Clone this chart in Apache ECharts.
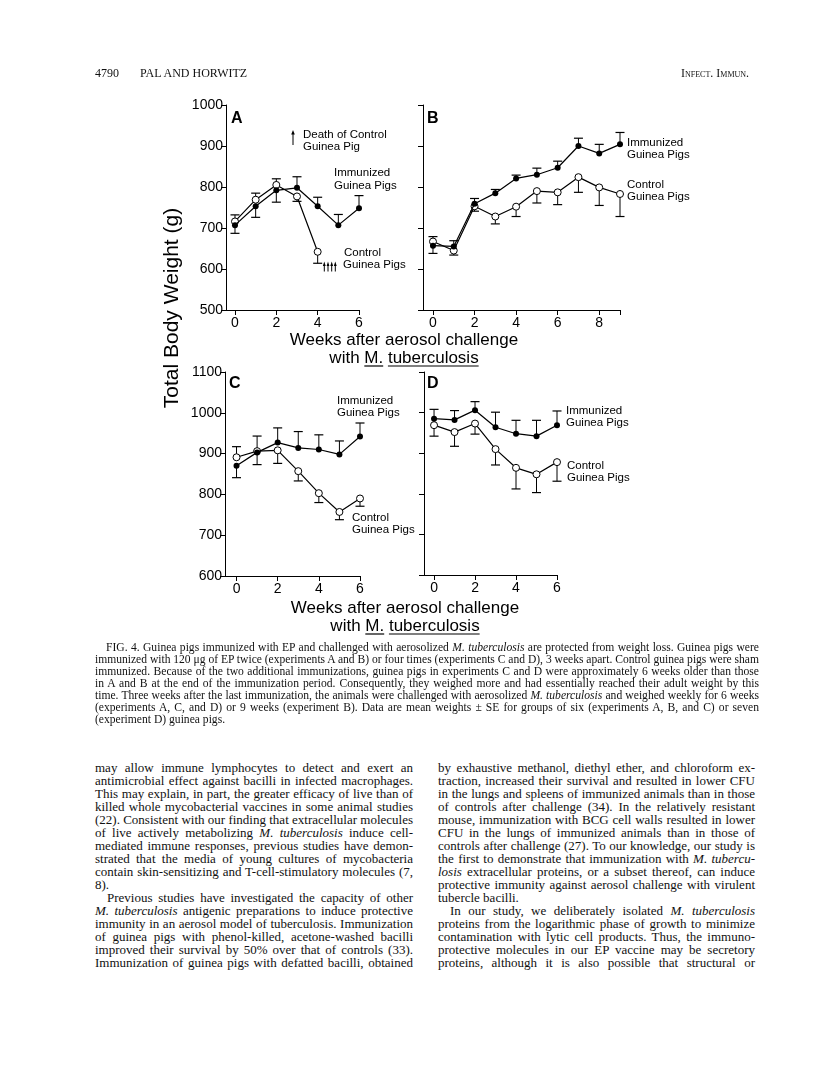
<!DOCTYPE html>
<html>
<head>
<meta charset="utf-8">
<script src="https://cdn.jsdelivr.net/npm/echarts@6/dist/echarts.min.js"></script>
<style>
  html, body { margin: 0; padding: 0; background: #fff; }
  #page { position: relative; width: 816px; height: 1070px; overflow: hidden; background: #fff; }
  #chart { position: absolute; left: 0; top: 0; width: 816px; height: 660px; }
  .ln { position: absolute; white-space: nowrap; font-family: "Liberation Serif", "Times New Roman", serif; color: #111; display: inline-block; transform-origin: 0 50%; }
  .cap { font-size: 11.6px; line-height: 13px; }
  .body { font-size: 13px; line-height: 15px; }
  .hdr { font-size: 12px; line-height: 14px; }
</style>
</head>
<body>
<div id="page">
  <div id="chart"></div>
</div>
<script>
// ---------------- data ----------------
// Panel A (experiment A)
const weeksA = [0, 1, 2, 3, 4, 5, 6];
const immA = [707, 753, 792, 798, 753, 707, 748];
const immAErr = [687, 726, 763, 825, 775, 733, 779];
const weeksACtrl = [0, 1, 2, 3, 4];
const ctrlA = [716, 769, 805, 777, 642];
const ctrlAErr = [732, 785, 820, 765, 614];

// Panel B (experiment B)
const weeksB = [0, 1, 2, 3, 4, 5, 6, 7, 8, 9];
const immB = [657, 655, 759, 785, 821, 830, 847, 900, 882, 904];
const immBErr = [638, 669, 772, 794, 829, 846, 863, 919, 904, 933];
const ctrlB = [667, 645, 753, 728, 752, 790, 787, 824, 799, 783];
const ctrlBErr = [679, 634, 741, 710, 728, 761, 757, 787, 755, 728];

// Panel C (experiment C)
const weeksC = [0, 1, 2, 3, 4, 5, 6];
const immC = [870, 903, 927, 914, 910, 898, 942];
const immCErr = [841, 873, 963, 954, 946, 931, 975];
const ctrlC = [891, 906, 908, 857, 803, 757, 790];
const ctrlCErr = [917, 943, 876, 833, 780, 738, 771];

// Panel D (experiment D)
const weeksD = [0, 1, 2, 3, 4, 5, 6];
const immD = [985, 982, 1006, 964, 948, 942, 969];
const immDErr = [1008, 1005, 1027, 1001, 981, 981, 1004];
const ctrlD = [969, 952, 973, 910, 864, 848, 878];
const ctrlDErr = [942, 917, 947, 871, 812, 803, 831];

// tick labels
const xTicks6 = [0, 2, 4, 6];
const xTicks9 = [0, 2, 4, 6, 8, 9];
const xLabels9 = [0, 2, 4, 6, 8];
const yRangeTop = [500, 1000];
const yRangeBottom = [600, 1100];

// ---------------- layout ----------------
const FONT = '"Liberation Sans", Arial, Helvetica, sans-serif';
const panels = [
  { grid: { left: 226, top: 105, width: 133, height: 205 }, xmin: -0.435, xmax: 6, yr: yRangeTop, yLabels: true, ticks: xTicks6, labels: xTicks6,
    imm: [weeksA, immA, immAErr], ctrl: [weeksACtrl, ctrlA, ctrlAErr] },
  { grid: { left: 423, top: 105, width: 197, height: 205 }, xmin: -0.48, xmax: 9, yr: yRangeTop, yLabels: false, ticks: xTicks9, labels: xLabels9,
    imm: [weeksB, immB, immBErr], ctrl: [weeksB, ctrlB, ctrlBErr] },
  { grid: { left: 225, top: 372, width: 135, height: 204 }, xmin: -0.56, xmax: 6, yr: yRangeBottom, yLabels: true, ticks: xTicks6, labels: xTicks6,
    imm: [weeksC, immC, immCErr], ctrl: [weeksC, ctrlC, ctrlCErr] },
  { grid: { left: 424, top: 372, width: 133, height: 203 }, xmin: -0.49, xmax: 6, yr: yRangeBottom, yLabels: false, ticks: xTicks6, labels: xTicks6,
    imm: [weeksD, immD, immDErr], ctrl: [weeksD, ctrlD, ctrlDErr] }
];

function zip3(w, v, e) { return w.map((x, i) => [x, v[i], e[i]]); }
function zip2(w, v) { return w.map((x, i) => [x, v[i]]); }

function errRender(params, api) {
  const x = api.value(0), v = api.value(1), e = api.value(2);
  const p1 = api.coord([x, v]);
  const p2 = api.coord([x, e]);
  return {
    type: 'group',
    children: [
      { type: 'line', shape: { x1: p1[0], y1: p1[1], x2: p2[0], y2: p2[1] }, style: { stroke: '#000', lineWidth: 1 } },
      { type: 'line', shape: { x1: p2[0] - 4.5, y1: p2[1], x2: p2[0] + 4.5, y2: p2[1] }, style: { stroke: '#000', lineWidth: 1.2 } }
    ]
  };
}

const grids = [], xAxes = [], yAxes = [], series = [];
panels.forEach((p, i) => {
  grids.push(p.grid);
  xAxes.push({
    type: 'value', gridIndex: i, min: p.xmin, max: p.xmax,
    axisLine: { show: true, onZero: false, lineStyle: { color: '#000', width: 1 } },
    axisTick: { show: true, length: 5, inside: false, customValues: p.ticks, lineStyle: { color: '#000' } },
    axisLabel: { show: true, customValues: p.labels, margin: 6, color: '#000', fontSize: 14, fontFamily: FONT,
      formatter: v => String(v) },
    splitLine: { show: false }
  });
  yAxes.push({
    type: 'value', gridIndex: i, min: p.yr[0], max: p.yr[1], interval: 100,
    axisLine: { show: true, onZero: false, lineStyle: { color: '#000', width: 1 } },
    axisTick: { show: true, length: 5, inside: false, lineStyle: { color: '#000' } },
    axisLabel: { show: p.yLabels, margin: 3, color: '#000', fontSize: 14, fontFamily: FONT,
      formatter: v => String(v) },
    splitLine: { show: false }
  });
  series.push({ type: 'custom', xAxisIndex: i, yAxisIndex: i, renderItem: errRender, data: zip3(...p.imm), z: 1, silent: true });
  series.push({ type: 'custom', xAxisIndex: i, yAxisIndex: i, renderItem: errRender, data: zip3(...p.ctrl), z: 1, silent: true });
  series.push({
    type: 'line', xAxisIndex: i, yAxisIndex: i, data: zip2(p.ctrl[0], p.ctrl[1]), z: 3,
    symbol: 'circle', symbolSize: 7, showAllSymbol: true,
    lineStyle: { color: '#000', width: 1.2 },
    itemStyle: { color: '#fff', borderColor: '#000', borderWidth: 1 }
  });
  series.push({
    type: 'line', xAxisIndex: i, yAxisIndex: i, data: zip2(p.imm[0], p.imm[1]), z: 4,
    symbol: 'circle', symbolSize: 6, showAllSymbol: true,
    lineStyle: { color: '#000', width: 1.2 },
    itemStyle: { color: '#000', borderColor: '#000', borderWidth: 0 }
  });
});

// text measure for underlines
const mctx = document.createElement('canvas').getContext('2d');
function tw(t, f) { mctx.font = f; return mctx.measureText(t).width; }

const g = [];
function txt(x, y, text, size, opts) {
  opts = opts || {};
  g.push({
    type: 'text', x: x, y: y, rotation: opts.rot || 0, z: 10,
    style: { text: text, fill: '#000', align: opts.align || 'left', verticalAlign: 'middle',
      font: (opts.bold ? 'bold ' : '') + size + 'px ' + FONT }
  });
}
function seg(x1, y1, x2, y2, w) {
  g.push({ type: 'line', z: 10, shape: { x1: x1, y1: y1, x2: x2, y2: y2 }, style: { stroke: '#000', lineWidth: w || 1 } });
}
function arrow(x, yTip, yTail, hw) {
  seg(x, yTail, x, yTip + 3, 1);
  g.push({ type: 'polygon', z: 10, shape: { points: [[x, yTip], [x - hw, yTip + 4.5], [x + hw, yTip + 4.5]] }, style: { fill: '#000' } });
}

// panel letters
txt(231, 119, 'A', 16, { bold: true });
txt(427, 119, 'B', 16, { bold: true });
txt(229, 384, 'C', 16, { bold: true });
txt(427, 384, 'D', 16, { bold: true });

const AN = 11.5;
// Panel A annotations
arrow(293, 130, 145, 1.8);
txt(303, 135, 'Death of Control', AN);
txt(303, 147, 'Guinea Pig', AN);
txt(334, 173, 'Immunized', AN);
txt(334, 186, 'Guinea Pigs', AN);
txt(344, 253, 'Control', AN);
txt(343, 265, 'Guinea Pigs', AN);
[324.3, 328, 331.7, 335.3].forEach(x => arrow(x, 261.5, 271.5, 1.4));
// Panel B
txt(627, 143, 'Immunized', AN);
txt(627, 155, 'Guinea Pigs', AN);
txt(627, 185, 'Control', AN);
txt(627, 197, 'Guinea Pigs', AN);
// Panel C
txt(337, 401, 'Immunized', AN);
txt(337, 413, 'Guinea Pigs', AN);
txt(352, 518, 'Control', AN);
txt(352, 530, 'Guinea Pigs', AN);
// Panel D
txt(566, 411, 'Immunized', AN);
txt(566, 423, 'Guinea Pigs', AN);
txt(567, 466, 'Control', AN);
txt(567, 478, 'Guinea Pigs', AN);

// y-axis title
txt(172, 308, 'Total Body Weight (g)', 21, { rot: Math.PI / 2, align: 'center' });

// x-axis titles
const XT = 17;
function xTitle(cx, y1, y2) {
  txt(cx, y1, 'Weeks after aerosol challenge', XT, { align: 'center' });
  txt(cx, y2, 'with M. tuberculosis', XT, { align: 'center' });
  const f = XT + 'px ' + FONT;
  const W = tw('with M. tuberculosis', f);
  const x0 = cx - W / 2;
  const a = x0 + tw('with ', f);
  const b = a + tw('M.', f);
  const c = b + tw(' ', f);
  const d = c + tw('tuberculosis', f);
  const uy = y2 + 8;
  seg(a, uy, b, uy, 1.2);
  seg(c, uy, d, uy, 1.2);
}
xTitle(404, 340, 358);
xTitle(405, 608, 626);

const chart = echarts.init(document.getElementById('chart'), null, { renderer: 'canvas' });
chart.setOption({
  animation: false,
  backgroundColor: '#fff',
  grid: grids,
  xAxis: xAxes,
  yAxis: yAxes,
  series: series,
  graphic: g
});

// ---------------- page text ----------------
const page = document.getElementById('page');
function addLine(cls, left, cy, html, width, justify) {
  const el = document.createElement('span');
  el.className = 'ln ' + cls;
  el.innerHTML = html;
  page.appendChild(el);
  const lh = parseFloat(getComputedStyle(el).lineHeight);
  el.style.left = left + 'px';
  el.style.top = (cy - lh / 2) + 'px';
  if (width) {
    const w = el.getBoundingClientRect().width;
    if (justify) {
      if (w > width) {
        el.style.transform = 'scaleX(' + (width / w) + ')';
      } else {
        const n = (el.textContent.match(/ /g) || []).length;
        if (n) el.style.wordSpacing = ((width - w) / n) + 'px';
      }
    } else if (w > width) {
      el.style.transform = 'scaleX(' + (width / w) + ')';
    }
  }
  return el;
}

// header
addLine('hdr', 95, 73, '4790');
addLine('hdr', 140, 73, 'PAL AND HORWITZ');
addLine('hdr', 681, 73, '<span style="font-variant: small-caps">Infect. Immun.</span>');

// caption
const capLines = [
  [106, 'FIG. 4. Guinea pigs immunized with EP and challenged with aerosolized <i>M. tuberculosis</i> are protected from weight loss. Guinea pigs were', true],
  [95, 'immunized with 120 μg of EP twice (experiments A and B) or four times (experiments C and D), 3 weeks apart. Control guinea pigs were sham', true],
  [95, 'immunized. Because of the two additional immunizations, guinea pigs in experiments C and D were approximately 6 weeks older than those', true],
  [95, 'in A and B at the end of the immunization period. Consequently, they weighed more and had essentially reached their adult weight by this', true],
  [95, 'time. Three weeks after the last immunization, the animals were challenged with aerosolized <i>M. tuberculosis</i> and weighed weekly for 6 weeks', true],
  [95, '(experiments A, C, and D) or 9 weeks (experiment B). Data are mean weights ± SE for groups of six (experiments A, B, and C) or seven', true],
  [95, '(experiment D) guinea pigs.', false]
];
capLines.forEach((l, i) => addLine('cap', l[0], 647 + 12 * i, l[1], 759 - l[0], l[2]));

// body text
const leftCol = [
  [0, 'may allow immune lymphocytes to detect and exert an', true],
  [0, 'antimicrobial effect against bacilli in infected macrophages.', true],
  [0, 'This may explain, in part, the greater efficacy of live than of', true],
  [0, 'killed whole mycobacterial vaccines in some animal studies', true],
  [0, '(22). Consistent with our finding that extracellular molecules', true],
  [0, 'of live actively metabolizing <i>M. tuberculosis</i> induce cell-', true],
  [0, 'mediated immune responses, previous studies have demon-', true],
  [0, 'strated that the media of young cultures of mycobacteria', true],
  [0, 'contain skin-sensitizing and T-cell-stimulatory molecules (7,', true],
  [0, '8).', false],
  [12, 'Previous studies have investigated the capacity of other', true],
  [0, '<i>M. tuberculosis</i> antigenic preparations to induce protective', true],
  [0, 'immunity in an aerosol model of tuberculosis. Immunization', true],
  [0, 'of guinea pigs with phenol-killed, acetone-washed bacilli', true],
  [0, 'improved their survival by 50% over that of controls (33).', true],
  [0, 'Immunization of guinea pigs with defatted bacilli, obtained', true]
];
const rightCol = [
  [0, 'by exhaustive methanol, diethyl ether, and chloroform ex-', true],
  [0, 'traction, increased their survival and resulted in lower CFU', true],
  [0, 'in the lungs and spleens of immunized animals than in those', true],
  [0, 'of controls after challenge (34). In the relatively resistant', true],
  [0, 'mouse, immunization with BCG cell walls resulted in lower', true],
  [0, 'CFU in the lungs of immunized animals than in those of', true],
  [0, 'controls after challenge (27). To our knowledge, our study is', true],
  [0, 'the first to demonstrate that immunization with <i>M. tubercu-</i>', true],
  [0, '<i>losis</i> extracellular proteins, or a subset thereof, can induce', true],
  [0, 'protective immunity against aerosol challenge with virulent', true],
  [0, 'tubercle bacilli.', false],
  [12, 'In our study, we deliberately isolated <i>M. tuberculosis</i>', true],
  [0, 'proteins from the logarithmic phase of growth to minimize', true],
  [0, 'contamination with lytic cell products. Thus, the immuno-', true],
  [0, 'protective molecules in our EP vaccine may be secretory', true],
  [0, 'proteins, although it is also possible that structural or', true]
];
leftCol.forEach((l, i) => addLine('body', 95 + l[0], 767 + 13 * i, l[1], 318 - l[0], l[2]));
rightCol.forEach((l, i) => addLine('body', 438 + l[0], 767 + 13 * i, l[1], 317 - l[0], l[2]));
</script>
</body>
</html>
